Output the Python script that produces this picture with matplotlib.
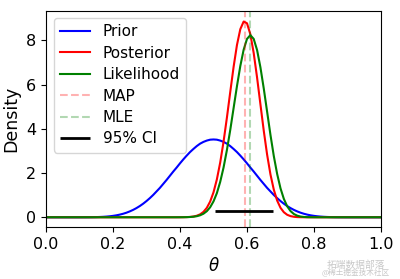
import numpy as np
import matplotlib
matplotlib.use("Agg")
import matplotlib.pyplot as plt

# theta grid 0.00 .. 1.00, step 0.01
theta = np.linspace(0, 1, 101)

# Prior
prior = ([0.0] * 10 +
         [0.0004, 0.0008, 0.0015, 0.0028, 0.0049, 0.0082, 0.0132, 0.0205, 0.0307, 0.0447,
          0.0635, 0.0879, 0.119, 0.158, 0.206, 0.265, 0.334, 0.415, 0.508, 0.614,
          0.734, 0.866, 1.01, 1.17, 1.33, 1.51, 1.69, 1.88, 2.07, 2.25,
          2.44, 2.62, 2.79, 2.95, 3.09, 3.22, 3.33, 3.41, 3.47, 3.51, 3.52,
          3.51, 3.47, 3.41, 3.33, 3.22, 3.09, 2.95, 2.79, 2.62, 2.44,
          2.25, 2.07, 1.88, 1.69, 1.51, 1.33, 1.17, 1.01, 0.866, 0.734,
          0.614, 0.508, 0.415, 0.334, 0.265, 0.206, 0.158, 0.119, 0.0879, 0.0635,
          0.0447, 0.0307, 0.0205, 0.0132, 0.0082, 0.0049, 0.0028, 0.0015, 0.0008, 0.0004] +
         [0.0] * 10)

# Posterior (red)
posterior = ([0.0] * 40 +
             [0.001, 0.003, 0.007, 0.016, 0.034, 0.069, 0.132, 0.243, 0.426, 0.710,
              1.128, 1.711, 2.476, 3.419, 4.506, 5.669, 6.804, 7.792, 8.508, 8.855,
              8.777, 8.281, 7.429, 6.330, 5.117, 3.918, 2.838, 1.940, 1.249, 0.756,
              0.429, 0.228, 0.112, 0.052, 0.022, 0.008, 0.003, 0.001] +
             [0.0] * 23)

# Likelihood (green)
likelihood = ([0.0] * 39 +
              [0.0004, 0.0011, 0.0025, 0.0056, 0.012, 0.0245, 0.0478, 0.0893, 0.16, 0.275,
               0.453, 0.718, 1.09, 1.6, 2.25, 3.04, 3.95, 4.94, 5.93, 6.84,
               7.58, 8.07, 8.24, 8.07, 7.57, 6.79, 5.83, 4.78, 3.73, 2.77,
               1.96, 1.31, 0.831, 0.496, 0.279, 0.147, 0.072, 0.0329, 0.0139, 0.0054,
               0.0019, 0.0006] +
              [0.0] * 20)

map_est = 0.593
mle_est = 0.61
ci_low, ci_high = 0.504, 0.679
ci_y = 0.27

fig, ax = plt.subplots(figsize=(4.0, 2.79), dpi=100)
fig.subplots_adjust(left=0.115, right=0.9525, top=0.962, bottom=0.186)

ax.plot(theta, prior, color="blue", label="Prior")
ax.plot(theta, posterior, color="red", label="Posterior")
ax.plot(theta, likelihood, color="green", label="Likelihood")
ax.axvline(map_est, color="red", ls="--", alpha=0.3, label="MAP")
ax.axvline(mle_est, color="green", ls="--", alpha=0.3, label="MLE")
ax.hlines(ci_y, ci_low, ci_high, color="black", lw=2, label="95% CI")

ax.set_xlim(0, 1)
ax.set_ylim(-0.445, 9.35)
ax.set_xticks([0.0, 0.2, 0.4, 0.6, 0.8, 1.0])
ax.set_yticks([0, 2, 4, 6, 8])
ax.tick_params(labelsize=11.5)
ax.set_xlabel(r"$\theta$", fontsize=12)
ax.set_ylabel("Density", fontsize=12.5)
ax.legend(loc="upper left", fontsize=11, labelspacing=0.42)

# watermark
fig.text(0.817, 0.05, "拓端数据部落", family=["Noto Sans CJK SC", "DejaVu Sans"],
         fontsize=7, color="#c8c8c8", ha="left", va="center")
fig.text(0.805, 0.02, "@稀土掘金技术社区", family=["Noto Sans CJK SC", "DejaVu Sans"],
         fontsize=5.5, color="#c8c8c8", ha="left", va="center")

plt.savefig("out.png", dpi=100)
plt.close(fig)
